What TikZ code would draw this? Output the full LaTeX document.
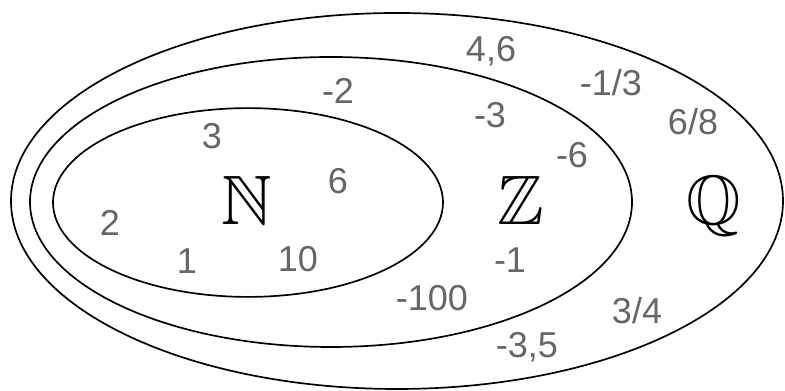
\documentclass[tikz,border=0pt]{standalone}
\usepackage{amsmath,amssymb}
\usepackage{fontspec}
\newfontfamily\numfont{Liberation Sans}
\definecolor{numgray}{RGB}{102,102,102}
\tikzset{
  setln/.style={line width=0.6pt, black},
  setlab/.style={font=\Huge, inner sep=0pt, anchor=base},
  elem/.style={numgray, font=\numfont\fontsize{12.8}{15}\selectfont, inner sep=0pt, anchor=base},
}

\begin{document}
\begin{tikzpicture}
  \useasboundingbox (0,0) rectangle (9.8125,4.8875);
  % nested sets Q > Z > N
  \draw[setln] (4.9625,2.375) ellipse [x radius=4.825, y radius=2.35];
  \draw[setln] (4.1375,2.3625) ellipse [x radius=3.7625, y radius=1.8125];
  \draw[setln] (3.1,2.356) ellipse [x radius=2.4375, y radius=1.18];
  % set names
  \node[setlab] (setN) at (3.0875,2.075) {$\mathbb{N}$};
  \node[setlab] (setZ) at (6.5125,2.075) {$\mathbb{Z}$};
  \node[setlab] (setQ) at (8.925,2.075) {$\mathbb{Q}$};
  % elements
  \foreach \x/\y/\lab [count=\k] in {
      2.65/3.025/{3}, 4.225/2.4625/{6}, 1.375/1.9375/{2},
      2.3375/1.4625/{1}, 3.725/1.4875/{10},
      4.225/3.5875/{-2}, 6.125/3.2875/{-3}, 7.15/2.7875/{-6},
      6.375/1.475/{-1}, 5.4/1.0/{-100},
      6.1375/4.1125/{4,6}, 7.6375/3.6875/{-1/3}, 8.6625/3.2/{6/8},
      7.9625/0.8375/{3/4}, 6.5875/0.4125/{-3,5}}{
    \node[elem] (el\k) at (\x,\y) {\lab};
  }
\end{tikzpicture}
\end{document}
